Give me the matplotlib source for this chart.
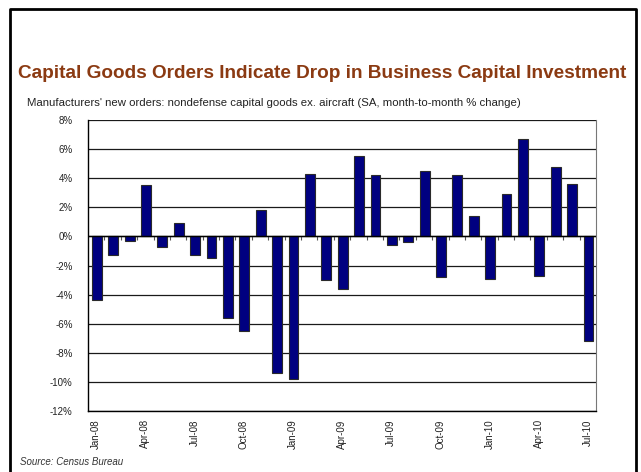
import numpy as np
import matplotlib
matplotlib.use("Agg")
import matplotlib.pyplot as plt
from matplotlib.lines import Line2D

plt.rcParams['font.family'] = ['Liberation Sans', 'DejaVu Sans']

# monthly % change, Jan-08 .. Jul-10
months = ['Jan-08', 'Feb-08', 'Mar-08', 'Apr-08', 'May-08', 'Jun-08', 'Jul-08', 'Aug-08',
          'Sep-08', 'Oct-08', 'Nov-08', 'Dec-08', 'Jan-09', 'Feb-09', 'Mar-09', 'Apr-09',
          'May-09', 'Jun-09', 'Jul-09', 'Aug-09', 'Sep-09', 'Oct-09', 'Nov-09', 'Dec-09',
          'Jan-10', 'Feb-10', 'Mar-10', 'Apr-10', 'May-10', 'Jun-10', 'Jul-10']
pct_change = [-4.4, -1.3, -0.3, 3.5, -0.7, 0.9, -1.3, -1.5,
              -5.6, -6.5, 1.8, -9.4, -9.8, 4.3, -3.0, -3.6,
              5.5, 4.2, -0.6, -0.4, 4.5, -2.8, 4.2, 1.4,
              -2.9, 2.9, 6.7, -2.7, 4.8, 3.6, -7.2]
yticks = [-12, -10, -8, -6, -4, -2, 0, 2, 4, 6, 8]

W, H = 641, 472
fig = plt.figure(figsize=(W / 100, H / 100), dpi=100)

# outer frame (open at the bottom)
fig.add_artist(Line2D([10 / W, 10 / W, 636 / W, 636 / W],
                      [-0.05, 1 - 9 / H, 1 - 9 / H, -0.05],
                      transform=fig.transFigure, color='black', lw=2))

fig.text(322 / W, 1 - 73 / H,
         'Capital Goods Orders Indicate Drop in Business Capital Investment',
         ha='center', va='center', fontsize=13.7, fontweight='bold', color='#8B3A12')
fig.text(27 / W, 1 - 103 / H,
         "Manufacturers' new orders: nondefense capital goods ex. aircraft (SA, month-to-month % change)",
         ha='left', va='center', fontsize=8.2, color='#222222')
fig.text(20 / W, 1 - 462 / H, 'Source: Census Bureau',
         ha='left', va='center', fontsize=7, style='italic', color='#333333')

ax = fig.add_axes([88 / W, 1 - 411 / H, (596 - 88) / W, (411 - 120) / H])
x = np.arange(len(months))

ax.set_axisbelow(True)
for v in yticks:
    ax.axhline(v, color='#1a1a1a', lw=0.9, zorder=0)

ax.bar(x + 0.04, pct_change, width=0.6, color='#000080',
       edgecolor='#2a2a2a', linewidth=0.8, zorder=3)

# category tick marks on the zero line
ax.vlines(x[:-1] + 0.5, -0.22, 0, color='#555555', lw=0.8, zorder=2)
ax.axhline(0, color='black', lw=1.0, zorder=4)

ax.set_xlim(-0.5, len(months) - 0.5)
ax.set_ylim(-12, 8)
ax.set_yticks(yticks)
ax.set_yticklabels([f'{v}%' for v in yticks])
ax.set_xticks(x[::3])
ax.set_xticklabels(months[::3], rotation=90)
ax.tick_params(axis='y', length=0, pad=11, labelsize=7, colors='#222222')
ax.tick_params(axis='x', length=0, pad=6, labelsize=7, colors='#222222')

ax.spines['top'].set_visible(False)
ax.spines['right'].set_color('#777777')
ax.spines['left'].set_color('black')
ax.spines['bottom'].set_color('black')
ax.spines['left'].set_linewidth(1.0)
ax.spines['bottom'].set_linewidth(1.0)

fig.savefig('out.png', dpi=100)
